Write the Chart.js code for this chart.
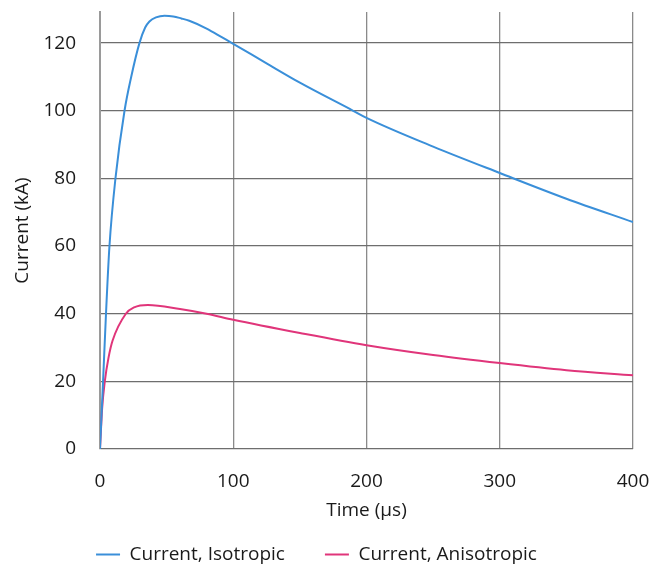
<!DOCTYPE html>
<html>
<head>
<meta charset="utf-8">
<script src="https://cdn.jsdelivr.net/npm/chart.js@4"></script>
<style>
    html, body { margin: 0; padding: 0; background: #fff; }
    #wrap { width: 665px; height: 565px; }
</style>
</head>
<body>
<div id="wrap"><canvas id="chart" width="665" height="565"></canvas></div>
<script>
// Время (мкс) и ток (кА)
const isoTimes = [0, 2.3, 4.5, 7.1, 11.6, 18.4, 23.4, 29.6, 33.9, 37.1, 42, 48.4, 55, 61, 67, 80, 92, 100, 125, 150, 190, 200, 250, 300, 350, 400];
const isoValues = [0, 20, 40, 60, 80, 100, 110, 120, 124.6, 126.4, 127.6, 128.1, 127.9, 127.3, 126.6, 124.3, 121.6, 119.8, 114, 108.3, 100, 97.9, 89.4, 81.6, 74.0, 67.1];

const anisoTimes = [0, 1.6, 3.6, 6.4, 9.4, 19.4, 25.6, 36, 60, 80, 100, 150, 200, 250, 300, 350, 400];
const anisoValues = [0, 12, 20, 27, 32, 40, 41.9, 42.6, 41.4, 40, 38.2, 34.3, 30.7, 27.8, 25.4, 23.3, 21.8];

const seriesLabels = ['Current, Isotropic', 'Current, Anisotropic'];
const xTicks = [0, 100, 200, 300, 400];
const yTicks = [0, 20, 40, 60, 80, 100, 120];

const FONT = "'Open Sans', 'Noto Sans', sans-serif";
const FONT_SIZE = 19;

function toPoints(times, values) {
    return times.map((t, i) => ({ x: t, y: values[i] }));
}

const ctx = document.getElementById('chart').getContext('2d');
new Chart(ctx, {
    type: 'line',
    data: {
        datasets: [{
            label: seriesLabels[0],
            data: toPoints(isoTimes, isoValues),
            borderColor: '#3a8fd9',
            backgroundColor: '#3a8fd9',
            borderWidth: 2,
            pointRadius: 0,
            cubicInterpolationMode: 'monotone'
        }, {
            label: seriesLabels[1],
            data: toPoints(anisoTimes, anisoValues),
            borderColor: '#e0357a',
            backgroundColor: '#e0357a',
            borderWidth: 2,
            pointRadius: 0,
            cubicInterpolationMode: 'monotone'
        }]
    },
    options: {
        responsive: false,
        animation: false,
        layout: { padding: { top: 12, right: 32, left: 0, bottom: -9 } },
        plugins: {
            tooltip: { enabled: false },
            legend: {
                position: 'bottom',
                labels: {
                    usePointStyle: true,
                    pointStyle: 'line',
                    pointStyleWidth: 24,
                    boxHeight: 2,
                    padding: 40,
                    color: '#1a1a1a',
                    font: { family: FONT, size: FONT_SIZE }
                }
            }
        },
        scales: {
            x: {
                type: 'linear',
                min: 0,
                max: 400,
                afterBuildTicks: scale => { scale.ticks = xTicks.map(v => ({ value: v })); },
                afterFit: scale => {
                    scale.height = 56;
                    scale.paddingLeft = 0;
                    scale.paddingRight = 0;
                },
                grid: { color: '#8a8a8a', lineWidth: 1.3, drawTicks: false },
                border: { display: false },
                ticks: {
                    padding: 21,
                    color: '#1a1a1a',
                    maxRotation: 0,
                    font: { family: FONT, size: FONT_SIZE }
                },
                title: {
                    display: true,
                    text: 'Time (µs)',
                    color: '#1a1a1a',
                    padding: { top: 0, bottom: -17 },
                    font: { family: FONT, size: FONT_SIZE }
                }
            },
            y: {
                type: 'linear',
                min: 0,
                max: 129.2,
                afterBuildTicks: scale => { scale.ticks = yTicks.map(v => ({ value: v })); },
                afterFit: scale => {
                    scale.width = 100;
                    scale.paddingTop = 0;
                    scale.paddingBottom = 0;
                },
                grid: { color: '#6e6e6e', lineWidth: 1.3, drawTicks: false },
                border: { display: true, color: '#9a9a9a', width: 2 },
                ticks: {
                    padding: 24,
                    color: '#1a1a1a',
                    font: { family: FONT, size: FONT_SIZE }
                },
                title: {
                    display: true,
                    text: 'Current (kA)',
                    color: '#1a1a1a',
                    padding: { top: 11, bottom: 0 },
                    font: { family: FONT, size: FONT_SIZE }
                }
            }
        }
    }
});
</script>
</body>
</html>
